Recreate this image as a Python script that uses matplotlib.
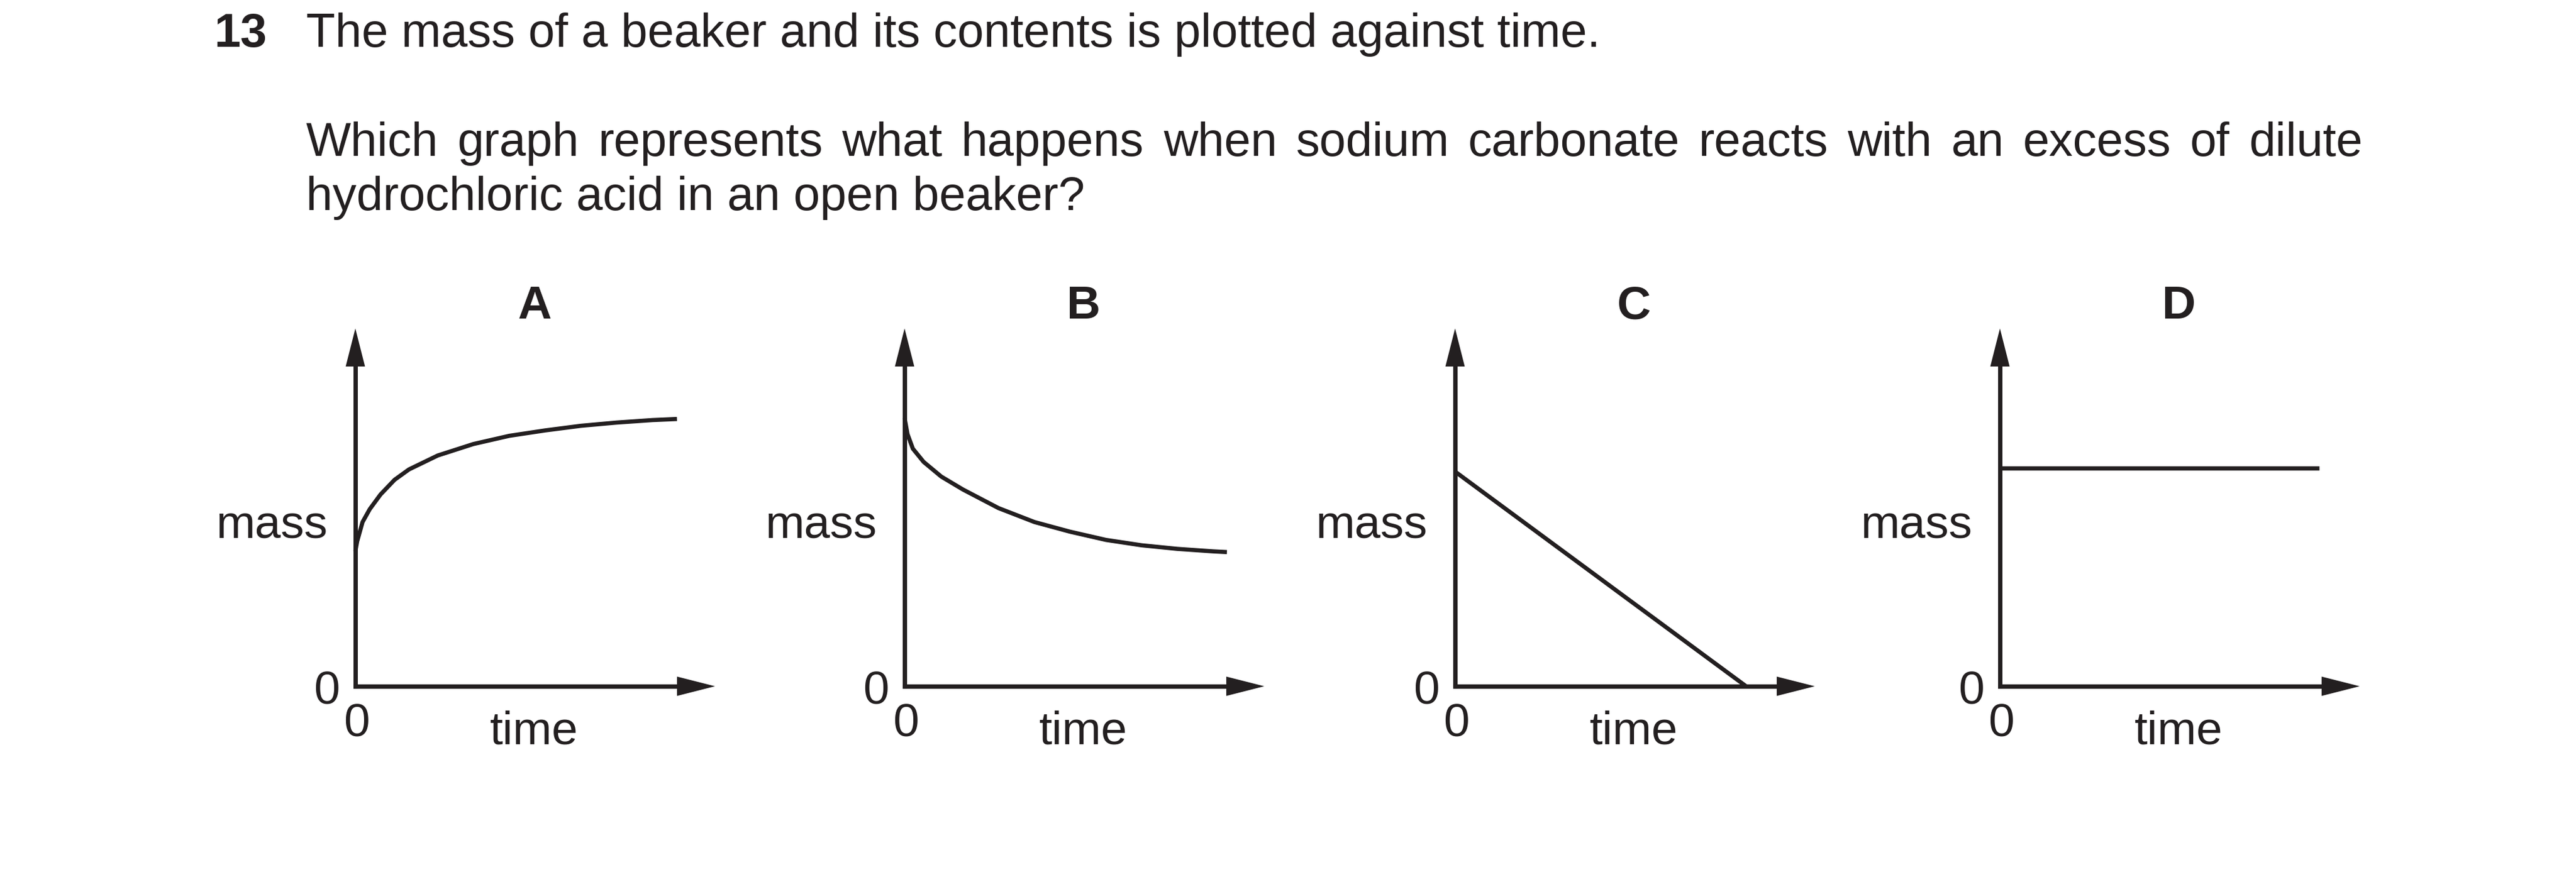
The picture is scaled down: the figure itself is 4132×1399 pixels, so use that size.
import matplotlib
matplotlib.use("Agg")
import matplotlib.pyplot as plt
from matplotlib.patches import Polygon

plt.rcParams["font.family"] = ["Liberation Sans", "DejaVu Sans"]

INK = "#231f20"
W, H = 4132, 1399

# question text
q_number = "13"
q_line1 = "The mass of a beaker and its contents is plotted against time."
q_line2 = "Which graph represents what happens when sodium carbonate reacts with an excess of dilute"
q_line3 = "hydrochloric acid in an open beaker?"

# the four sketch graphs (time and mass as fractions of the axis length)
panel_labels = ["A", "B", "C", "D"]
time_A = [0, 0.005, 0.020, 0.040, 0.070, 0.109, 0.149, 0.229, 0.328, 0.428, 0.527, 0.627, 0.726, 0.826, 0.894]
mass_A = [0.377, 0.405, 0.459, 0.495, 0.536, 0.577, 0.606, 0.645, 0.677, 0.700, 0.715, 0.728, 0.737, 0.744, 0.747]
time_B = [0, 0.008, 0.023, 0.053, 0.102, 0.162, 0.261, 0.361, 0.460, 0.560, 0.659, 0.758, 0.858, 0.896]
mass_B = [0.750, 0.705, 0.664, 0.627, 0.586, 0.550, 0.498, 0.459, 0.432, 0.409, 0.394, 0.384, 0.377, 0.375]
time_C = [0, 0.809]
mass_C = [0.600, 0]
time_D = [0, 0.888]
mass_D = [0.609, 0.609]
x_title, y_title, zero_label = "time", "mass", "0"

times = [time_A, time_B, time_C, time_D]
masses = [mass_A, mass_B, mass_C, mass_D]

fig = plt.figure(figsize=(W / 100, H / 100), dpi=100)
fs = 54      # graph labels
fs_q = 55    # question text


def fx(x):
    return x / W


def fy(y):
    return 1 - y / H


# --- question text ---
fig.text(fx(343), fy(75), q_number, fontsize=fs_q, fontweight="bold", color=INK, va="baseline")
fig.text(fx(491), fy(75), q_line1, fontsize=fs_q, color=INK, va="baseline")
fig.text(fx(491), fy(337), q_line3, fontsize=fs_q, color=INK, va="baseline")

# justified second line
renderer = fig.canvas.get_renderer()
words = q_line2.split()
texts = [fig.text(0, fy(250), w, fontsize=fs_q, color=INK, va="baseline") for w in words]
widths = [t.get_window_extent(renderer).width for t in texts]
left, right = 491, 3790
gap = (right - left - sum(widths)) / (len(words) - 1)
x = left
for t, w in zip(texts, widths):
    t.set_x(fx(x))
    x += w + gap

# --- graphs ---
origins_x = [570, 1451, 2334, 3208]
origin_y = 1101
aw, ah = 577, 574          # axis length to arrow tip, px
head_len, head_half = 61, 15.5

for lab, ox, t, m in zip(panel_labels, origins_x, times, masses):
    ax = fig.add_axes([fx(ox), fy(origin_y), aw / W, ah / H])
    ax.set_xlim(0, 1)
    ax.set_ylim(0, 1)
    ax.axis("off")

    hx, hy = head_len / aw, head_len / ah
    ax.plot([0, 0], [0, 1 - hy], color=INK, lw=5.0, solid_capstyle="projecting", clip_on=False)
    ax.plot([0, 1 - hx], [0, 0], color=INK, lw=5.0, solid_capstyle="projecting", clip_on=False)
    ax.add_patch(Polygon([[-head_half / aw, 1 - hy], [0, 1], [head_half / aw, 1 - hy]],
                         closed=True, color=INK, lw=0, clip_on=False))
    ax.add_patch(Polygon([[1 - hx, -head_half / ah], [1, 0], [1 - hx, head_half / ah]],
                         closed=True, color=INK, lw=0, clip_on=False))

    ax.plot(t, m, color=INK, lw=4.8, solid_capstyle="butt", solid_joinstyle="round", clip_on=False)

    ax.text(287 / aw, 590 / ah, lab, fontsize=fs, fontweight="bold", color=INK,
            ha="center", va="baseline")
    ax.text(-44 / aw, 238 / ah, y_title, fontsize=fs, color=INK, ha="right", va="baseline")
    ax.text(-25 / aw, -29 / ah, zero_label, fontsize=fs, color=INK, ha="right", va="baseline")
    ax.text(2 / aw, -81 / ah, zero_label, fontsize=fs, color=INK, ha="center", va="baseline")
    ax.text(287 / aw, -92 / ah, x_title, fontsize=fs, color=INK, ha="center", va="baseline")

fig.savefig("out.png", dpi=100, facecolor="white")
